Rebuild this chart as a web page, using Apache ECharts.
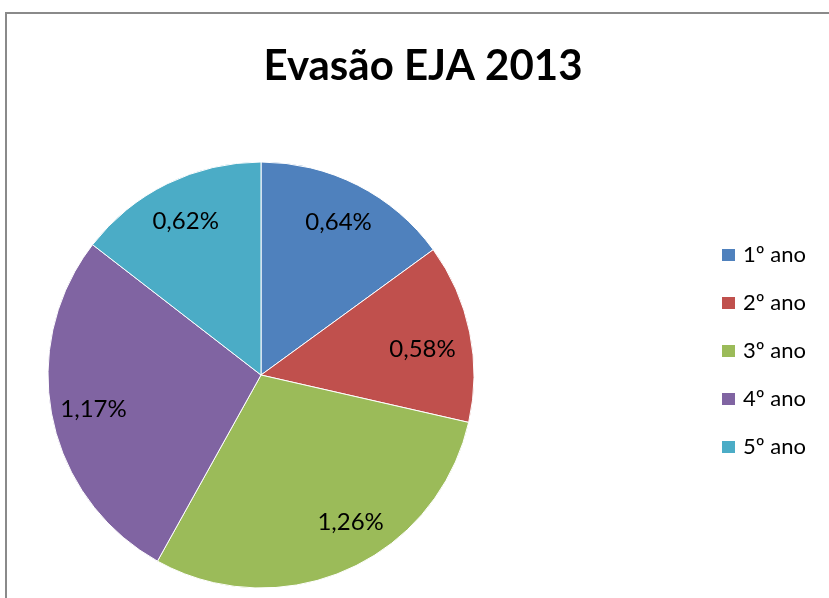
<!DOCTYPE html>
<html>
<head>
<meta charset="utf-8">
<script src="https://cdn.jsdelivr.net/npm/echarts@6/dist/echarts.min.js"></script>
<style>
  html, body { margin: 0; padding: 0; background: #fff; }
  #chart { width: 829px; height: 598px; }
</style>
</head>
<body>
<div id="chart"></div>
<script>
// Dropout rate (%) of the adult education program, per school year, 2013
const categories = ['1º ano', '2º ano', '3º ano', '4º ano', '5º ano'];
const dropoutRates = [0.64, 0.58, 1.26, 1.17, 0.62];
const sliceColors = ['#4F81BD', '#C0504D', '#9BBB59', '#8064A2', '#4BACC6'];

const FONT = 'Lato, "Open Sans", sans-serif';

// small nudges for labels that would otherwise crowd the slice edges
const labelNudge = { '2º ano': [-6, 9], '3º ano': [20, -9] };

const pieData = categories.map((name, i) => ({ name, value: dropoutRates[i] }));
const labelData = pieData.map(d => labelNudge[d.name]
  ? Object.assign({}, d, { label: { offset: labelNudge[d.name] } })
  : d);

const chart = echarts.init(document.getElementById('chart'), null, { renderer: 'canvas' });

chart.setOption({
  animation: false,
  backgroundColor: '#ffffff',
  color: sliceColors,
  title: {
    text: 'Evasão EJA 2013',
    left: 418,
    textAlign: 'center',
    top: 40,
    textStyle: { fontFamily: FONT, fontWeight: 'bold', fontSize: 42, color: '#000' }
  },
  legend: {
    orient: 'vertical',
    left: 720,
    top: 244,
    padding: 0,
    data: categories,
    icon: 'rect',
    itemWidth: 15,
    itemHeight: 14,
    itemGap: 26,
    selectedMode: false,
    textStyle: { fontFamily: FONT, fontSize: 22, color: '#000', lineHeight: 22, padding: [0, 0, 0, 2] }
  },
  graphic: [{
    type: 'rect',
    shape: { x: 6, y: 13, width: 1000, height: 1000 },
    style: { fill: 'none', stroke: '#8a8a8a', lineWidth: 2 },
    silent: true,
    z: 100
  }],
  series: [
    {
      // the slices
      type: 'pie',
      center: [261, 375],
      radius: [0, 213],
      startAngle: 90,
      clockwise: true,
      data: pieData,
      label: { show: false },
      labelLine: { show: false },
      itemStyle: { borderColor: '#ffffff', borderWidth: 1 },
      emphasis: { disabled: true },
      silent: true
    },
    {
      // value labels, placed on a transparent ring so they sit near the rim
      type: 'pie',
      center: [261, 375],
      radius: [123, 213],
      startAngle: 90,
      clockwise: true,
      data: labelData,
      itemStyle: { color: 'transparent' },
      label: {
        show: true,
        position: 'inside',
        fontFamily: FONT,
        fontSize: 24,
        color: '#000',
        formatter: p => p.value.toFixed(2).replace('.', ',') + '%'
      },
      labelLine: { show: false },
      emphasis: { disabled: true },
      silent: true,
      z: 5
    }
  ]
});
</script>
</body>
</html>
